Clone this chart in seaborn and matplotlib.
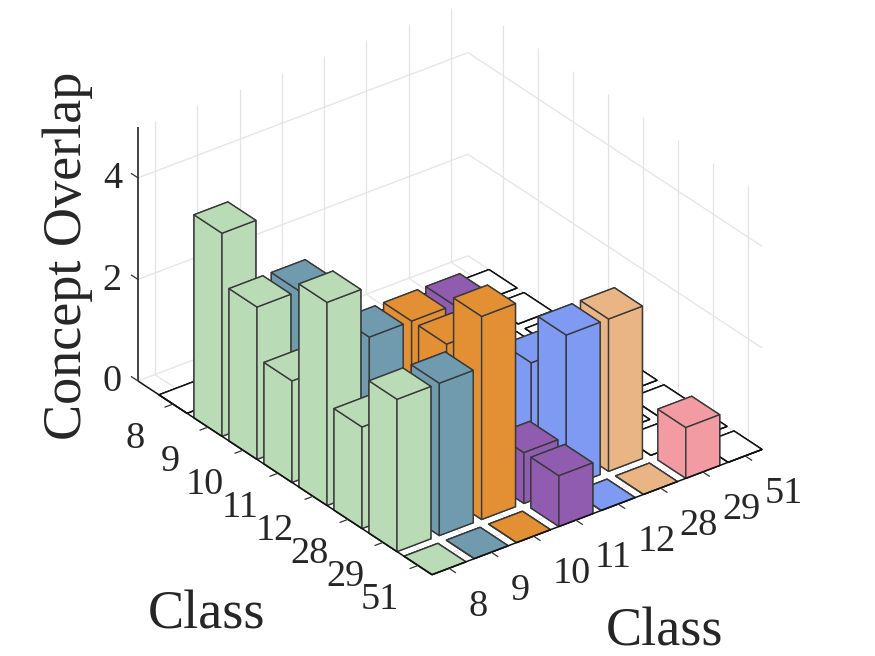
import numpy as np
import matplotlib
matplotlib.use("Agg")
import matplotlib.pyplot as plt
import seaborn as sns
from mpl_toolkits.mplot3d import proj3d

class_labels = ["8", "9", "10", "11", "12", "28", "29", "51"]
row_8 = [0, 0, 0, 0, 0, 0, 0, 0]
row_9 = [4, 0, 0, 0, 0, 0, 0, 0]
row_10 = [3, 3, 0, 0, 0, 0, 0, 0]
row_11 = [2, 0, 0, 0, 0, 0, 0, 0]
row_12 = [4, 3, 3, 3, 0, 0, 0, 0]
row_28 = [2, 0, 3, 0, 2, 0, 0, 0]
row_29 = [3, 3, 4, 1, 3, 3, 0, 0]
row_51 = [0, 0, 0, 1, 0, 0, 1, 0]
rows = [row_8, row_9, row_10, row_11, row_12, row_28, row_29, row_51]
column_colors = ["#B9DBB6", "#709BAF", "#E29033", "#905CB0", "#7E9AF2", "#EAB585", "#F29BA3", "#FFFFFF"]
z_ticks = [0, 2, 4]

sns.set_theme(style="white")
plt.rcParams["font.family"] = ["Liberation Serif", "DejaVu Sans"]
palette = sns.color_palette(column_colors)
TEXT = "#262626"
GRID = "#E4E4E4"
W, H = 875, 656
XLIM, YLIM, ZLIM = (0.0, 8.4), (0.6, 8.4), (0.0, 5.0)

fig = plt.figure(figsize=(W / 100, H / 100), dpi=100)
fig.patch.set_facecolor("white")
ax = fig.add_axes([0, 0, 1, 1], projection="3d", proj_type="ortho", computed_zorder=False)
ax.set_axis_off()

n = len(class_labels)
ticks = np.arange(1, n + 1)


def line(xs, ys, zs, color, lw, z):
    ax.plot(xs, ys, zs, color=color, lw=lw, zorder=z, clip_on=False, solid_capstyle="butt")


# grid on the walls and floor
for k in ticks:
    line([k, k], [YLIM[1], YLIM[1]], ZLIM, GRID, 0.9, 1)
    line([k, k], YLIM, [0, 0], GRID, 0.9, 1)
    line([XLIM[0], XLIM[0]], [k, k], ZLIM, GRID, 0.9, 1)
    line(XLIM, [k, k], [0, 0], GRID, 0.9, 1)
for zv in z_ticks:
    line([XLIM[0], XLIM[0]], YLIM, [zv, zv], GRID, 0.9, 1)
    line(XLIM, [YLIM[1], YLIM[1]], [zv, zv], GRID, 0.9, 1)

# bars, from the back corner to the front corner
order = 5
for i in range(n):
    for j in range(n - 1, -1, -1):
        h = rows[i][j]
        lower = i > j
        face = palette[j] if lower else (1, 1, 1)
        edge = "#383838" if lower else "#111111"
        c = ax.bar3d(i + 1 - 0.4, j + 1 - 0.4, 0, 0.8, 0.8, h, color=face, shade=False,
                     edgecolor=edge, linewidth=1.0, zorder=order)
        c.set_clip_on(False)
        order += 1

# axes lines and ticks
line(XLIM, [YLIM[0], YLIM[0]], [0, 0], "#111111", 1.1, 500)
line([XLIM[1], XLIM[1]], YLIM, [0, 0], "#111111", 1.1, 500)
line([XLIM[0], XLIM[0]], [YLIM[0], YLIM[0]], ZLIM, "#111111", 1.1, 500)
for k in ticks:
    line([k, k], [YLIM[0], YLIM[0] - 0.2], [0, 0], "#333333", 0.9, 500)
    line([XLIM[1], XLIM[1] + 0.2], [k, k], [0, 0], "#333333", 0.9, 500)
for zv in z_ticks:
    line([XLIM[0] - 0.2, XLIM[0]], [YLIM[0], YLIM[0]], [zv, zv], "#333333", 0.9, 500)

ax.set_box_aspect((486, 414, 293))
ax.view_init(elev=30, azim=-37.2)
ax.set_xlim3d(*XLIM, view_margin=0)
ax.set_ylim3d(*YLIM, view_margin=0)
ax.set_zlim3d(*ZLIM, view_margin=0)

# fit the box on the figure: left floor corner and right floor corner
target_left = np.array([138.0, H - 381.0])
target_right = np.array([762.0, H - 449.0])


def screen(x, y, z=0):
    px, py, _ = proj3d.proj_transform(x, y, z, ax.get_proj())
    return ax.transData.transform((px, py))


size = 656.0
left = (W - size) / 2
bottom = 0.0
for _ in range(4):
    ax.set_position([left / W, bottom / H, size / W, size / H])
    ax.apply_aspect()
    a = screen(XLIM[0], YLIM[0])
    b = screen(XLIM[1], YLIM[1])
    size *= (target_right[0] - target_left[0]) / (b[0] - a[0])
    ax.set_position([left / W, bottom / H, size / W, size / H])
    ax.apply_aspect()
    a = screen(XLIM[0], YLIM[0])
    left += target_left[0] - a[0]
    bottom += target_left[1] - a[1]
ax.set_position([left / W, bottom / H, size / W, size / H])
ax.apply_aspect()


def label3d(x, y, z, s, ha):
    p = screen(x, y, z)
    fig.text(p[0] / W, p[1] / H, s, ha=ha, va="center", fontsize=27.5, color=TEXT, zorder=600)


# tick labels
for k, lab in zip(ticks, class_labels):
    label3d(k, YLIM[0] - 0.9, -0.39, lab, "center")
    label3d(XLIM[1] + 0.55, k, -0.50, lab, "left")
for zv in z_ticks:
    label3d(XLIM[0], YLIM[0] - 0.38, zv + 0.10, str(zv), "right")

fig.text(68 / W, 1 - 256 / H, "Concept Overlap", rotation=90, ha="center", va="center", fontsize=39, color=TEXT)
fig.text(206 / W, 1 - 615 / H, "Class", ha="center", va="center", fontsize=39, color=TEXT)
fig.text(665 / W, 1 - 632 / H, "Class", ha="center", va="center", fontsize=39, color=TEXT)

fig.savefig("out.png", dpi=100, facecolor="white")
